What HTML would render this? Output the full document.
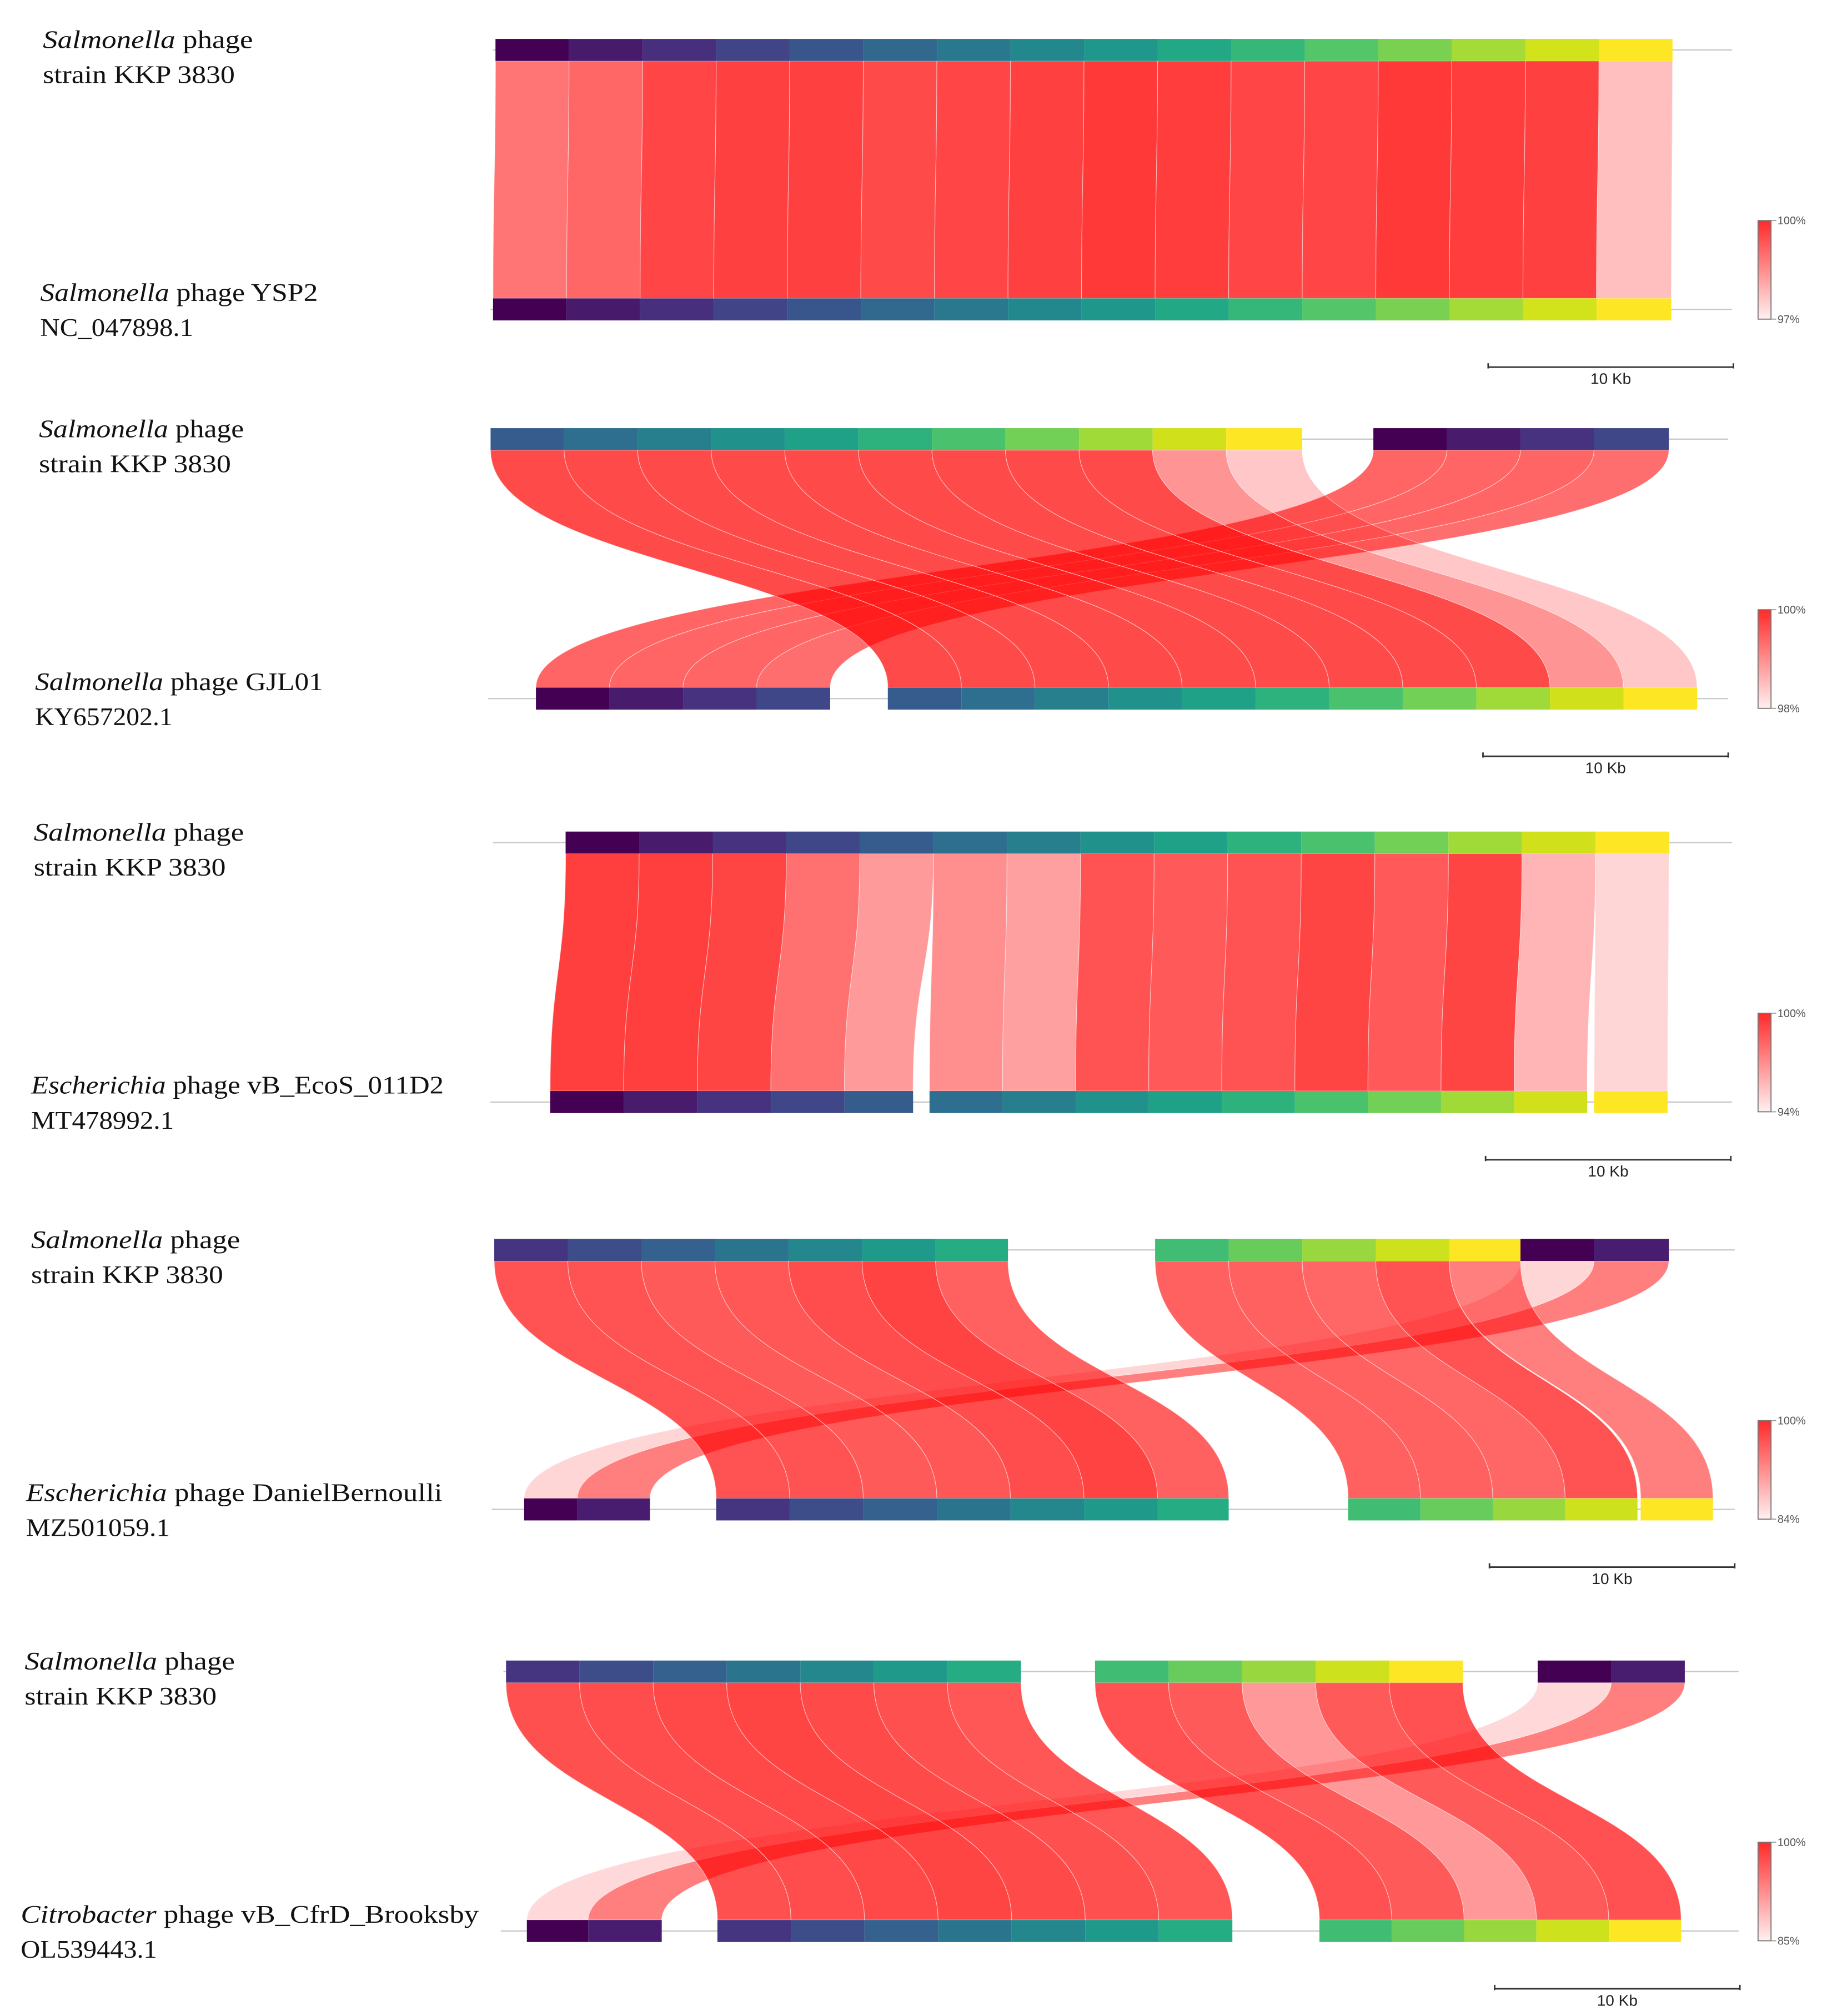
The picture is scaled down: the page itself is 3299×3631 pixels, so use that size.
<!DOCTYPE html>
<html><head><meta charset="utf-8">
<style>html,body{margin:0;padding:0;background:#fff}svg{display:block}</style></head>
<body>
<svg id="chart" width="3299" height="3631" viewBox="0 0 1412 1554" preserveAspectRatio="none" xmlns="http://www.w3.org/2000/svg">
<defs>
<linearGradient id="lg" x1="0" y1="0" x2="0" y2="1"><stop offset="0" stop-color="#ff2a2a"/><stop offset="1" stop-color="#fff0f0"/></linearGradient>
</defs>
<g id="root"></g>
</svg>
<script>
// Viridis palettes
const viridis16 = ['#440154','#481a6c','#472f7d','#414487','#39568c','#31688e','#2a788e','#23888e','#1f988b','#22a884','#35b779','#54c568','#7ad151','#a5db36','#d2e21b','#fde725'];
const viridis15 = ['#440154','#481b6d','#46327e','#3f4788','#365c8d','#2e6e8e','#277f8e','#21918c','#1fa187','#2db27d','#4ac16d','#73d056','#a0da39','#d0e11c','#fde725'];
const viridis14 = ['#440154','#481c6e','#453581','#3d4d8a','#34618d','#2b748e','#24878e','#1f998a','#25ac82','#40bd72','#67cc5c','#98d83e','#cde11d','#fde725'];

// Panel metadata
const panelTop = [30, 330, 641, 955, 1280];
const panelMin = [97, 98, 94, 84, 85];
const lineStart = [380, 378, 380, 381, 388];
const lineEnd = [1335, 1332, 1335, 1337, 1340];
const scaleBarStart = [1147, 1143, 1145, 1148, 1152];

// Blocks per track: [colorIndex, startKb, lengthKb]
const topBlocks1 = [[0,0.1,3],[1,3.1,3],[2,6.1,3],[3,9.1,3],[4,12.1,3],[5,15.1,3],[6,18.1,3],[7,21.1,3],[8,24.1,3],[9,27.1,3],[10,30.1,3],[11,33.1,3],[12,36.1,3],[13,39.1,3],[14,42.1,3],[15,45.1,3]];
const botBlocks1 = [[0,0,3],[1,3,3],[2,6,3],[3,9,3],[4,12,3],[5,15,3],[6,18,3],[7,21,3],[8,24,3],[9,27,3],[10,30,3],[11,33,3],[12,36,3],[13,39,3],[14,42,3],[15,45,3.05]];
const ids1 = [98.67,98.93,99.49,99.57,99.57,99.40,99.49,99.57,99.70,99.61,99.49,99.49,99.70,99.61,99.57,97.43];

const topBlocks2 = [[4,-0.1,3],[5,2.9,3],[6,5.9,3],[7,8.9,3],[8,11.9,3],[9,14.9,3],[10,17.9,3],[11,20.9,3],[12,23.9,3],[13,26.9,3],[14,29.9,3.1],[0,35.9,3],[1,38.9,3],[2,41.9,3],[3,44.9,3.05]];
const botBlocks2 = [[0,1.75,3],[1,4.75,3],[2,7.75,3],[3,10.75,3],[4,16.1,3],[5,19.1,3],[6,22.1,3],[7,25.1,3],[8,28.1,3],[9,31.1,3],[10,34.1,3],[11,37.1,3],[12,40.1,3],[13,43.1,3],[14,46.1,3]];
const ids2 = [99.3,99.3,99.3,99.2,99.6,99.6,99.6,99.6,99.6,99.6,99.6,99.6,99.6,98.77,98.2];

const topBlocks3 = [[0,2.96,3],[1,5.96,3],[2,8.96,3],[3,11.96,3],[4,14.96,3],[5,17.96,3],[6,20.96,3],[7,23.96,3],[8,26.96,3],[9,29.96,3],[10,32.96,3],[11,35.96,3],[12,38.96,3],[13,41.96,3],[14,44.96,3]];
const botBlocks3 = [[0,2.33,3],[1,5.33,3],[2,8.33,3],[3,11.33,3],[4,14.33,2.8],[5,17.8,2.98],[6,20.78,2.98],[7,23.76,2.98],[8,26.74,2.98],[9,29.72,2.98],[10,32.7,2.98],[11,35.68,2.98],[12,38.66,2.98],[13,41.64,2.98],[14,44.9,3]];
const ids3 = [99.2,99.2,99.0,97.5,96.1,96.5,95.9,98.5,98.3,98.5,99.0,98.3,99.0,95.2,94.1];

const topBlocks4 = [[2,0.05,3],[3,3.05,3],[4,6.05,3],[5,9.05,3],[6,12.05,3],[7,15.05,3],[8,18.05,2.95],[9,27,3],[10,30,3],[11,33,3],[12,36,3],[13,39,2.9],[0,41.9,3],[1,44.9,3.05]];
const botBlocks4 = [[0,1.27,2.17],[1,3.44,2.96],[2,9.1,3],[3,12.1,3],[4,15.1,3],[5,18.1,3],[6,21.1,3],[7,24.1,3],[8,27.1,2.9],[9,34.87,2.95],[10,37.82,2.95],[11,40.77,2.95],[12,43.72,2.95],[13,46.8,2.95]];
const ids4 = [84.2,92,96.1,96.1,95.4,95.7,96.6,97.5,94.7,94.7,94.7,94.3,96.1,92.0];

const topBlocks5 = [[2,0.53,3],[3,3.53,3],[4,6.53,3],[5,9.53,3],[6,12.53,3],[7,15.53,3],[8,18.53,3],[9,24.55,3],[10,27.55,3],[11,30.55,3],[12,33.55,3],[13,36.55,3],[0,42.6,3],[1,45.6,3]];
const botBlocks5 = [[0,1.38,2.5],[1,3.88,3],[2,9.15,3],[3,12.15,3],[4,15.15,3],[5,18.15,3],[6,21.15,3],[7,24.15,3],[8,27.15,3],[9,33.7,2.95],[10,36.65,2.95],[11,39.6,2.95],[12,42.55,2.95],[13,45.5,2.95]];
const ids5 = [85,92.5,96.5,96.8,97.2,97.5,97.0,96.5,96.0,96.4,95.7,90.4,95.7,96.4];

const topLabelA = ['Salmonella phage','Salmonella phage','Salmonella phage','Salmonella phage','Salmonella phage'];
const topLabelB = ['strain KKP 3830','strain KKP 3830','strain KKP 3830','strain KKP 3830','strain KKP 3830'];
const botGenus = ['Salmonella','Salmonella','Escherichia','Escherichia','Citrobacter'];
const botRest = [' phage YSP2',' phage GJL01',' phage vB_EcoS_011D2',' phage DanielBernoulli',' phage vB_CfrD_Brooksby'];
const botAcc = ['NC_047898.1','KY657202.1','MT478992.1','MZ501059.1','OL539443.1'];
const topLabelX = [33,30,26,24,19];
const botLabelX = [31,27,24,20,16];
const topWidthA = [162,158,162,161,162];
const topWidthB = [148,148,148,148,148];
const botWidthA = [214,222,318,321,353];
const botWidthB = [118,106,110,111,105];

const panels = [
 {top:topBlocks1,bot:botBlocks1,ids:ids1,pal:viridis16,straight:true},
 {top:topBlocks2,bot:botBlocks2,ids:ids2,pal:viridis15},
 {top:topBlocks3,bot:botBlocks3,ids:ids3,pal:viridis15},
 {top:topBlocks4,bot:botBlocks4,ids:ids4,pal:viridis14},
 {top:topBlocks5,bot:botBlocks5,ids:ids5,pal:viridis14}
];

const NS='http://www.w3.org/2000/svg';
const root=document.getElementById('root');
const PX_PER_KB=18.9, ORIGIN=380, BAR_H=17, GAP=183;
function xk(kb){return ORIGIN+kb*PX_PER_KB;}
function mk(tag,attrs,parent){const e=document.createElementNS(NS,tag);for(const k in attrs)e.setAttribute(k,attrs[k]);(parent||root).appendChild(e);return e;}
function alphaOf(id,min){return 0.15+0.7*Math.max(0,Math.min(1,(id-min)/(100-min)));}

panels.forEach((p,pi)=>{
  const g=mk('g',{});
  
  
  const y0=panelTop[pi], yTopEnd=y0+BAR_H, yBot=y0+BAR_H+GAP, yBotEnd=yBot+BAR_H;
  // axis lines
  const l1=mk('line',{x1:lineStart[pi],x2:lineEnd[pi],y1:y0+8.5,y2:y0+8.5,stroke:'#c8c8c8','stroke-width':1},g);
  
  
  const l2=mk('line',{x1:lineStart[pi]-2,x2:lineEnd[pi],y1:yBot+8.5,y2:yBot+8.5,stroke:'#c8c8c8','stroke-width':1},g);
  
  
  // links
  const topBy={},botBy={};
  p.top.forEach(b=>topBy[b[0]]=b);p.bot.forEach(b=>botBy[b[0]]=b);
  p.ids.forEach((id,i)=>{
    const t=topBy[i],b=botBy[i];if(!t||!b)return;
    const xa=xk(t[1]),xb=xk(t[1]+t[2]),xc=xk(b[1]),xd=xk(b[1]+b[2]);
    const ym=(yTopEnd+yBot)/2;
    const d=`M${xa},${yTopEnd} L${xb},${yTopEnd} C${xb},${ym} ${xd},${ym} ${xd},${yBot} L${xc},${yBot} C${xc},${ym} ${xa},${ym} ${xa},${yTopEnd} Z`;
    const path=mk('path',{d:d,fill:'#ff0000','fill-opacity':alphaOf(id,panelMin[pi]).toFixed(3),stroke:'#ffffff','stroke-opacity':0.5,'stroke-width':0.5},g);
    
    
  });
  // blocks
  p.top.forEach(b=>{
    const r=mk('rect',{x:xk(b[1]),y:y0,width:b[2]*PX_PER_KB,height:BAR_H,fill:p.pal[b[0]]},g);
    
    
  });
  p.bot.forEach(b=>{
    const r=mk('rect',{x:xk(b[1]),y:yBot,width:b[2]*PX_PER_KB,height:BAR_H,fill:p.pal[b[0]]},g);
    
    
  });
  // labels
  const fs='font-family:"Liberation Serif",serif;font-size:19.5px;fill:#111';
  const tA=mk('text',{x:topLabelX[pi],y:y0+7,style:fs,textLength:topWidthA[pi],lengthAdjust:'spacingAndGlyphs'},g);
  
  
  const it=mk('tspan',{'font-style':'italic'},tA);it.textContent='Salmonella';
  const rt=mk('tspan',{},tA);rt.textContent=' phage';
  const tB=mk('text',{x:topLabelX[pi],y:y0+34,style:fs,textLength:topWidthB[pi],lengthAdjust:'spacingAndGlyphs'},g);
  
  
  tB.textContent=topLabelB[pi];
  const bA=mk('text',{x:botLabelX[pi],y:yBot+2,style:fs,textLength:botWidthA[pi],lengthAdjust:'spacingAndGlyphs'},g);
  
  
  const bi=mk('tspan',{'font-style':'italic'},bA);bi.textContent=botGenus[pi];
  const br=mk('tspan',{},bA);br.textContent=botRest[pi];
  const bB=mk('text',{x:botLabelX[pi],y:yBot+29,style:fs,textLength:botWidthB[pi],lengthAdjust:'spacingAndGlyphs'},g);
  
  
  bB.textContent=botAcc[pi];
  // identity legend
  const lx=1355, ly=y0+140, lh=76;
  const lr=mk('rect',{x:lx,y:ly,width:10,height:lh,fill:'url(#lg)',stroke:'#777','stroke-width':0.8},g);
  
  
  mk('line',{x1:lx+10,x2:lx+14,y1:ly,y2:ly,stroke:'#999','stroke-width':0.8},g);
  mk('line',{x1:lx+10,x2:lx+14,y1:ly+lh,y2:ly+lh,stroke:'#999','stroke-width':0.8},g);
  const ls='font-family:"Liberation Sans",sans-serif;font-size:8.5px;fill:#555';
  const t1=mk('text',{x:lx+15,y:ly+3,style:ls},g);t1.textContent='100%';
  
  
  const t2=mk('text',{x:lx+15,y:ly+lh+3,style:ls},g);t2.textContent=panelMin[pi]+'%';
  
  
  // scale bar
  const sx=scaleBarStart[pi], sy=yBotEnd+36, sw=10*PX_PER_KB;
  const sb=mk('path',{d:`M${sx},${sy-3} V${sy+1} M${sx},${sy} H${sx+sw} M${sx+sw},${sy-3} V${sy+1}`,stroke:'#333','stroke-width':1.2,fill:'none'},g);
  
  
  const st=mk('text',{x:sx+sw/2,y:sy+13,'text-anchor':'middle',style:'font-family:"Liberation Sans",sans-serif;font-size:12px;fill:#222'},g);
  st.textContent='10 Kb';
  
  
});
</script>
</body></html>
